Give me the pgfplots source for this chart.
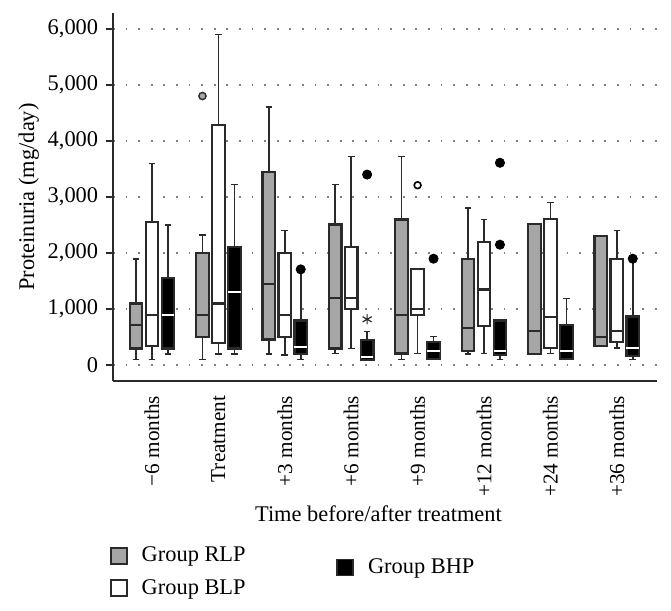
\documentclass[border=0pt]{standalone}
\usepackage{pgfplots}
\pgfplotsset{compat=1.18}
\usepgfplotslibrary{statistics}
\usepackage{fontspec}
\setmainfont{Liberation Serif}
\definecolor{rlpgray}{HTML}{A6A6A6}
\definecolor{edge}{HTML}{2A2A2A}

\pgfplotsset{
  boxplot/draw direction=y,
  boxplot/box extend=0.19,
  boxplot/whisker extend=0.1,
  boxplot/every whisker/.style={line width=0.8pt},
  rlp/.style={draw=edge, fill=rlpgray, line width=1.1pt},
  blp/.style={draw=edge, fill=white, line width=1.1pt},
  bhp/.style={draw=edge, fill=black, line width=1.1pt,
    boxplot/every median/.style={draw=white, line width=1pt}},
  outr/.style={only marks, mark=*, mark size=1.8pt,
    mark options={fill=rlpgray, draw=edge, line width=0.7pt}},
  outw/.style={only marks, mark=*, mark size=1.7pt,
    mark options={fill=white, draw=black, line width=0.8pt}},
  outb/.style={only marks, mark=*, mark size=2.3pt,
    mark options={fill=black, draw=black}},
  sqleg/.style={draw=none, fill=none, inner sep=0pt, row sep=5pt,
    nodes={inner sep=1pt},
    /tikz/every odd column/.append style={column sep=6pt}},
}

% style, position, lower whisker, lower quartile, median, upper quartile, upper whisker
\newcommand\bx[7]{\addplot[#1, boxplot prepared={draw position=#2,
  lower whisker=#3, lower quartile=#4, median=#5,
  upper quartile=#6, upper whisker=#7}] coordinates {};}

\begin{document}
\fontsize{11.2}{13.4}\selectfont
\begin{tikzpicture}
\begin{axis}[
  name=main,
  scale only axis, width=272pt, height=184pt,
  xmin=-0.587, xmax=7.605, ymin=-280, ymax=6280,
  axis x line=bottom, axis y line=left,
  axis line style={-, line width=1pt, draw=edge},
  ytick={0,1000,...,6000},
  yticklabel style={/pgf/number format/1000 sep={,}},
  /pgf/number format/assume math mode=true,
  ytick style={line width=0.9pt, draw=edge},
  tick align=outside, major tick length=3.5pt,
  xtick={0,...,7},
  xticklabels={{−6 months},{Treatment},{+3 months},{+6 months},{+9 months},{+12 months},{+24 months},{+36 months}},
  xticklabel style={rotate=90, anchor=east, font=\fontsize{10.6}{12}\selectfont},
  xtick style={draw=none},
  ymajorgrids,
  major grid style={draw=gray, line width=0.9pt, dash pattern=on 0.9pt off 5.4pt},
  ylabel={Proteinuria (mg/day)},
  ylabel style={at={(axis description cs:-0.155,0.5)}, anchor=center},
  xlabel={Time before/after treatment},
  xlabel style={at={(axis description cs:0.488,-0.361)}, anchor=center},
  legend style={at={(-0.006,-0.4445)}, anchor=north west, sqleg},
  legend cell align=left,
  legend image code/.code={\draw[#1, line width=0.8pt] (0pt,-4pt) rectangle (8pt,4pt);},
]
\addlegendimage{draw=edge, fill=rlpgray}
\addlegendentry{Group RLP}
\addlegendimage{draw=edge, fill=white}
\addlegendentry{Group BLP}

% -6 months
\bx{rlp}{-0.24}{100}{300}{720}{1100}{1900}
\bx{blp}{0}{100}{350}{900}{2560}{3600}
\bx{bhp}{0.24}{200}{300}{900}{1560}{2500}
% Treatment
\bx{rlp}{0.76}{100}{500}{900}{2000}{2320}
\bx{blp}{1}{200}{400}{1100}{4290}{5900}
\bx{bhp}{1.24}{200}{300}{1300}{2110}{3220}
% +3 months
\bx{rlp}{1.76}{200}{460}{1450}{3450}{4600}
\bx{blp}{2}{180}{500}{900}{2000}{2400}
\bx{bhp}{2.24}{100}{200}{330}{800}{1680}
% +6 months
\bx{rlp}{2.76}{210}{300}{1200}{2510}{3220}
\bx{blp}{3}{300}{1000}{1200}{2110}{3720}
\bx{bhp}{3.24}{100}{100}{150}{450}{600}
% +9 months
\bx{rlp}{3.76}{100}{210}{900}{2600}{3720}
\bx{blp}{4}{210}{900}{1000}{1710}{1710}
\bx{bhp}{4.24}{100}{110}{260}{410}{510}
% +12 months
\bx{rlp}{4.76}{200}{260}{660}{1900}{2800}
\bx{blp}{5}{210}{700}{1350}{2200}{2600}
\bx{bhp}{5.24}{100}{180}{260}{800}{800}
% +24 months
\bx{rlp}{5.76}{200}{200}{610}{2520}{2520}
\bx{blp}{6}{210}{310}{855}{2610}{2900}
\bx{bhp}{6.24}{100}{110}{260}{720}{1190}
% +36 months
\bx{rlp}{6.76}{350}{350}{510}{2310}{2310}
\bx{blp}{7}{310}{410}{610}{1900}{2400}
\bx{bhp}{7.24}{100}{160}{310}{870}{1880}

% outliers
\addplot[outr] coordinates {(0.76,4800)};
\addplot[outw] coordinates {(4,3210)};
\addplot[outb] coordinates {(2.24,1710) (3.24,3400) (4.24,1900) (5.24,3610) (5.24,2150) (7.24,1900)};
\addplot[only marks, mark=asterisk, mark size=2.6pt, mark options={line width=0.6pt, draw=edge}] coordinates {(3.24,820)};
\end{axis}

\begin{axis}[
  at={(main.south west)}, anchor=south west,
  scale only axis, width=272pt, height=184pt,
  xmin=0, xmax=1, ymin=0, ymax=1, hide axis,
  legend style={at={(0.41,-0.476)}, anchor=north west, sqleg},
  legend cell align=left,
  legend image code/.code={\draw[#1, line width=0.8pt] (0pt,-4pt) rectangle (8pt,4pt);},
]
\addlegendimage{draw=edge, fill=black}
\addlegendentry{Group BHP}
\end{axis}

\pgfresetboundingbox
\path ([xshift=-56.5pt,yshift=-115pt]main.south west) rectangle ([xshift=7pt,yshift=6.5pt]main.north east);
\end{tikzpicture}
\end{document}
